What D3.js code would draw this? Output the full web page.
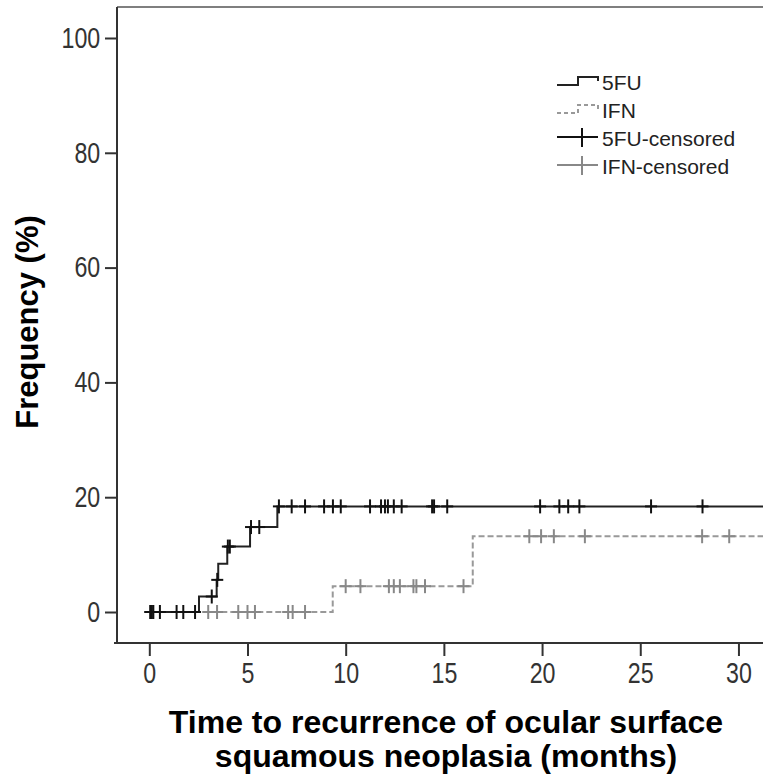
<!DOCTYPE html>
<html>
<head>
<meta charset="utf-8">
<script src="https://cdn.jsdelivr.net/npm/d3@7"></script>
<style>
  body { margin: 0; background: #fff; }
  svg { display: block; font-family: "Liberation Sans", Arial, sans-serif; }
</style>
</head>
<body>
<div id="chart"></div>
<script>
// Kaplan-Meier style cumulative recurrence
const fuStepTimes = [0, 2.53, 3.43, 3.51, 3.97, 5.13, 6.52];
const fuStepValues = [0, 2.7, 5.6, 8.4, 11.4, 14.8, 18.4];
const ifnStepTimes = [0, 9.34, 16.47];
const ifnStepValues = [0, 4.5, 13.2];

const fuCensored = [0.05, 0.12, 0.2, 0.54, 1.39, 1.73, 2.33, 3.18, 3.46, 4.0, 4.1, 5.18, 5.6,
  6.6, 7.25, 7.93, 8.9, 9.35, 9.75, 11.24, 11.8, 12.0, 12.15, 12.45, 12.85, 14.4, 14.5, 15.17,
  19.9, 20.88, 21.33, 21.9, 25.55, 28.17];
const ifnCensored = [0.05, 0.12, 0.2, 3.0, 3.45, 4.53, 5.0, 5.38, 7.07, 7.3, 7.93, 10.0, 10.75,
  12.2, 12.45, 12.76, 13.45, 13.6, 14.04, 16.0, 19.35, 19.95, 20.6, 22.18, 28.15, 29.53];

const xTicks = [0, 5, 10, 15, 20, 25, 30];
const yTicks = [0, 20, 40, 60, 80, 100];
const legendLabels = ["5FU", "IFN", "5FU-censored", "IFN-censored"];

const width = 763, height = 779;
const plotLeft = 117, plotRight = 763, plotTop = 7, plotBottom = 643;

const x = d3.scaleLinear().domain([-1.645, 31.25]).range([plotLeft, plotRight]);
const y = d3.scaleLinear().domain([-5.4, 105.4]).range([plotBottom, plotTop]);

const svg = d3.select("#chart").append("svg")
  .attr("width", width)
  .attr("height", height);

// frame lines
svg.append("line")
  .attr("x1", plotLeft).attr("x2", plotRight).attr("y1", plotTop).attr("y2", plotTop)
  .attr("stroke", "#555").attr("stroke-width", 1.5);
svg.append("line")
  .attr("x1", plotLeft).attr("x2", plotLeft).attr("y1", plotTop).attr("y2", plotBottom)
  .attr("stroke", "#333").attr("stroke-width", 2);
svg.append("line")
  .attr("x1", plotLeft - 3).attr("x2", plotRight).attr("y1", plotBottom).attr("y2", plotBottom)
  .attr("stroke", "#333").attr("stroke-width", 2);

// axes
const yAxis = svg.append("g")
  .attr("transform", "translate(" + plotLeft + ",0)")
  .call(d3.axisLeft(y).tickValues(yTicks).tickSize(12).tickSizeOuter(0).tickPadding(5));
const xAxis = svg.append("g")
  .attr("transform", "translate(0," + plotBottom + ")")
  .call(d3.axisBottom(x).tickValues(xTicks).tickSize(13).tickSizeOuter(0).tickPadding(6));

[yAxis, xAxis].forEach(function (g) {
  g.select(".domain").remove();
  g.selectAll(".tick line").attr("stroke", "#333").attr("stroke-width", 2);
  g.selectAll(".tick text")
    .attr("fill", "#333")
    .style("font-size", "29px")
    .style("font-family", "'Liberation Sans', Arial, sans-serif");
});
// narrow digits like the original
yAxis.selectAll(".tick text").attr("transform", "scale(0.8,1)").attr("x", -21);
xAxis.selectAll(".tick text").attr("transform", "scale(0.8,1)");

// step curves
function stepPoints(times, values) {
  const pts = times.map(function (t, i) { return [t, values[i]]; });
  pts.push([x.domain()[1], values[values.length - 1]]);
  return pts;
}
function valueAt(times, values, t) {
  let v = values[0];
  times.forEach(function (s, i) { if (t >= s) v = values[i]; });
  return v;
}

const line = d3.line()
  .x(function (d) { return x(d[0]); })
  .y(function (d) { return y(d[1]); })
  .curve(d3.curveStepAfter);

svg.append("path")
  .datum(stepPoints(ifnStepTimes, ifnStepValues))
  .attr("d", line)
  .attr("fill", "none")
  .attr("stroke", "#999")
  .attr("stroke-width", 2)
  .attr("stroke-dasharray", "6,3");

svg.append("path")
  .datum(stepPoints(fuStepTimes, fuStepValues))
  .attr("d", line)
  .attr("fill", "none")
  .attr("stroke", "#222")
  .attr("stroke-width", 2);

// censor marks
function drawCensor(times, stepT, stepV, color) {
  const g = svg.append("g");
  times.forEach(function (t) {
    const cx = x(t), cy = y(valueAt(stepT, stepV, t));
    g.append("line").attr("x1", cx - 6).attr("x2", cx + 6).attr("y1", cy).attr("y2", cy)
      .attr("stroke", color).attr("stroke-width", 2);
    g.append("line").attr("x1", cx).attr("x2", cx).attr("y1", cy - 7).attr("y2", cy + 7)
      .attr("stroke", color).attr("stroke-width", 2);
  });
}
drawCensor(ifnCensored, ifnStepTimes, ifnStepValues, "#888");
drawCensor(fuCensored, fuStepTimes, fuStepValues, "#111");

// legend
const lg = svg.append("g").attr("transform", "translate(557,0)");
const rowBase = [90, 118, 146, 174];
const legendStyles = [
  { stroke: "#222", dash: null, kind: "step" },
  { stroke: "#999", dash: "4,3", kind: "step" },
  { stroke: "#111", dash: null, kind: "cross" },
  { stroke: "#888", dash: null, kind: "cross" }
];
legendLabels.forEach(function (lab, i) {
  const b = rowBase[i], s = legendStyles[i];
  if (s.kind === "step") {
    lg.append("path")
      .attr("d", "M0," + (b - 5) + "H21V" + (b - 13) + "H41V" + (b - 9))
      .attr("fill", "none").attr("stroke", s.stroke).attr("stroke-width", 2)
      .attr("stroke-dasharray", s.dash);
  } else {
    lg.append("line").attr("x1", 0).attr("x2", 41).attr("y1", b - 9).attr("y2", b - 9)
      .attr("stroke", s.stroke).attr("stroke-width", 2);
    lg.append("line").attr("x1", 25).attr("x2", 25).attr("y1", b - 18).attr("y2", b + 1)
      .attr("stroke", s.stroke).attr("stroke-width", 2);
  }
  lg.append("text")
    .attr("x", 45).attr("y", b)
    .attr("fill", "#222")
    .style("font-size", "21px")
    .text(lab);
});

// axis titles
svg.append("text")
  .attr("transform", "translate(38,322) rotate(-90)")
  .attr("text-anchor", "middle")
  .style("font-size", "31px")
  .style("font-weight", "bold")
  .attr("fill", "#000")
  .text("Frequency (%)");

const xt = svg.append("text")
  .attr("text-anchor", "middle")
  .style("font-size", "32px")
  .style("font-weight", "bold")
  .attr("fill", "#000");
xt.append("tspan").attr("x", 446).attr("y", 733).text("Time to recurrence of ocular surface");
xt.append("tspan").attr("x", 446).attr("y", 767).text("squamous neoplasia (months)");
</script>
</body>
</html>
